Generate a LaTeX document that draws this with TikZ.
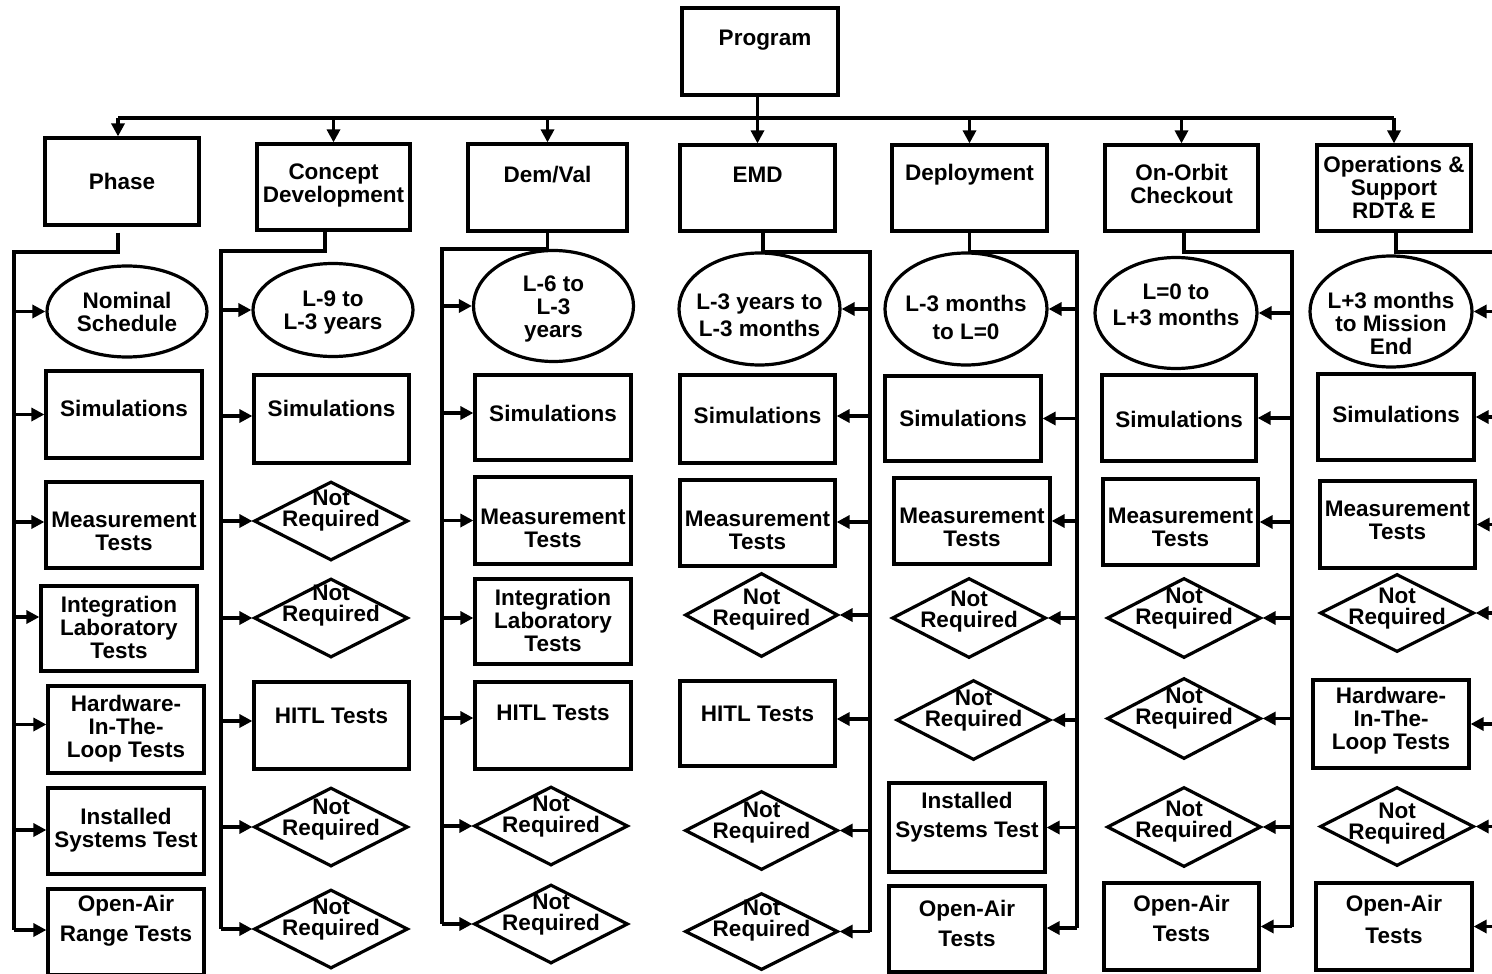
\documentclass[tikz,border=0pt]{standalone}
\usepackage{fontspec}
\setmainfont{Liberation Sans}
\usetikzlibrary{shapes.geometric,arrows.meta}
% arrow from a vertical bus into the left / right side of a node
\newcommand\inright[3]{\path ([yshift=#3]#2.west) coordinate (tip); \draw[arr] (#1 |- tip) -- (tip);}
\newcommand\inleft[3]{\path ([yshift=#3]#2.east) coordinate (tip); \draw[arr] (#1 |- tip) -- (tip);}
\begin{document}
\begin{tikzpicture}[x=1pt,y=-1pt,line width=3.2pt,
  every label/.style={align=center,font=\bfseries\fontsize{22.5}{23}\selectfont,inner sep=0pt},
  box/.style={draw,rectangle,minimum width=155pt,minimum height=86pt,inner sep=0pt},
  oval/.style={draw,ellipse,minimum width=161pt,minimum height=111pt,inner sep=0pt},
  nr/.style={draw,diamond,minimum width=154pt,minimum height=79pt,inner sep=0pt,
    label={[yshift=#1]center:Not\\[-2pt]Required}},
  nr/.default=9pt,
  arr/.style={-{Triangle[length=13pt,width=13pt]}},
  t/.style 2 args={label={[yshift=#1]center:#2}}]
\useasboundingbox (0,0) rectangle (1492,974);

% ---- top level ----
\node[box,minimum width=156pt,minimum height=87pt,label={[yshift=11.5pt,xshift=5pt]center:Program}] (prog) at (760,51.5) {};
\node[box,minimum width=154pt,minimum height=87pt,t={0pt}{Phase}] (phase) at (122,181.5) {};
\node[box,minimum width=153pt,t={1.5pt}{Concept\\Development}] (cd) at (333.5,187) {};
\node[box,minimum width=159pt,minimum height=87pt,t={12.5pt}{Dem/Val}] (dv) at (547.5,187.5) {};
\node[box,t={13pt}{EMD}] (emd) at (757.5,188) {};
\node[box,t={13pt}{Deployment}] (dep) at (969.5,188) {};
\node[box,minimum width=153pt,t={4pt}{On-Orbit\\Checkout}] (oo) at (1181.5,188) {};
\node[box,minimum width=154pt,t={1pt}{Operations \&\\Support\\RDT\& E}] (os) at (1394,188) {};

\coordinate (tb) at (0,118);
\draw[arr] (prog.south -| emd.north) -- (emd.north);
\draw ([xshift=-4pt]tb -| phase.north) -- (tb -| os.north);
\draw[arr] ([xshift=-4pt]tb -| phase.north) -- ([xshift=-4pt]phase.north);
\foreach \n in {cd,dv,dep,oo,os} \draw[arr] (tb -| \n.north) -- (\n.north);

% bus corners
\coordinate (k1) at (14,252);
\coordinate (k2) at (221,251);
\coordinate (k3) at (442,249);
\coordinate (k4) at (870,252);
\coordinate (k5) at (1077,252);
\coordinate (k6) at (1292,252);
\coordinate (k7) at (1500,252);

% ---- Phase column ----
\node[oval,minimum width=160pt,minimum height=91pt,t={0pt}{Nominal\\Schedule}] (a1) at (127,311.5) {};
\node[box,minimum width=156pt,minimum height=87pt,t={6.5pt}{Simulations}] (a2) at (124,414.5) {};
\node[box,minimum width=156pt,t={-6pt}{Measurement\\Tests}] (a3) at (124,525) {};
\node[box,minimum width=156pt,minimum height=85pt,t={1.5pt}{Integration\\Laboratory\\Tests}] (a4) at (119,628.5) {};
\node[box,minimum width=156pt,minimum height=87pt,t={1pt}{Hardware-\\In-The-\\Loop Tests}] (a5) at (126,729.5) {};
\node[box,minimum width=156pt,t={1pt}{Installed\\Systems Test}] (a6) at (126,831) {};
\node[box,minimum width=156pt,t={11.5pt}{Open-Air\\[7pt]Range Tests}] (a7) at (126,932) {};
\inright{k1}{a1}{0pt}
\inright{k1}{a2}{0pt}
\inright{k1}{a3}{3pt}
\inright{k1}{a4}{11.5pt}
\inright{k1}{a5}{5pt}
\inright{k1}{a6}{1pt}
\inright{k1}{a7}{2pt}
\draw ([xshift=-4pt,yshift=-6pt]phase.south) |- (k1) -- (k1 |- tip);

% ---- Concept Development column ----
\node[oval,minimum width=160pt,minimum height=93pt,t={-2pt}{L-9 to\\L-3 years}] (b1) at (333,310) {};
\node[box,minimum height=88pt,t={11pt}{Simulations}] (b2) at (331.5,419) {};
\node[nr=10.5pt] (b3) at (331,521) {};
\node[nr=12.5pt] (b4) at (331,618) {};
\node[box,minimum height=87pt,t={9.5pt}{HITL Tests}] (b5) at (331.5,725.5) {};
\node[nr=7pt] (b6) at (331,827) {};
\node[nr=9.5pt] (b7) at (331,929) {};
\inright{k2}{b1}{0pt}
\inright{k2}{b2}{3pt}
\inright{k2}{b3}{0pt}
\inright{k2}{b4}{0pt}
\inright{k2}{b5}{4.5pt}
\inright{k2}{b6}{0pt}
\inright{k2}{b7}{0pt}
\draw ([xshift=-8.5pt]cd.south) |- (k2) -- (k2 |- tip);

% ---- Dem/Val column ----
\node[oval,minimum width=160pt,t={-3pt}{L-6 to\\L-3\\years}] (c1) at (553.5,306) {};
\node[box,minimum width=156pt,minimum height=85pt,t={4.5pt}{Simulations}] (c2) at (553,417.5) {};
\node[box,minimum width=156pt,minimum height=87pt,t={-8pt}{Measurement\\Tests}] (c3) at (553,520.5) {};
\node[box,minimum width=156pt,minimum height=85pt,t={1.5pt}{Integration\\Laboratory\\Tests}] (c4) at (553,621.5) {};
\node[box,minimum width=156pt,minimum height=87pt,t={12.5pt}{HITL Tests}] (c5) at (553,725.5) {};
\node[nr=9pt] (c6) at (551,826) {};
\node[nr=9.5pt] (c7) at (551,924) {};
\inright{k3}{c1}{0pt}
\inright{k3}{c2}{4.5pt}
\inright{k3}{c3}{0pt}
\inright{k3}{c4}{3.5pt}
\inright{k3}{c5}{7.5pt}
\inright{k3}{c6}{0pt}
\inright{k3}{c7}{0pt}
\draw (dv.south) |- (k3) -- (k3 |- tip);

% ---- EMD column ----
\node[oval,minimum height=112pt,t={-6.5pt}{L-3 years to\\[4pt]L-3 months}] (d1) at (759.5,309) {};
\node[box,minimum height=88pt,t={4pt}{Simulations}] (d2) at (757.5,419) {};
\node[box,t={-7.5pt}{Measurement\\Tests}] (d3) at (757.5,523) {};
\node[nr=5pt,minimum width=153pt,minimum height=84pt] (d4) at (761.5,615) {};
\node[box,minimum height=85pt,t={9.5pt}{HITL Tests}] (d5) at (757.5,723.5) {};
\node[nr=8pt,minimum width=153pt] (d6) at (761.5,830.5) {};
\node[nr=11pt,minimum width=153pt,minimum height=77pt] (d7) at (761.5,931.5) {};
\inleft{k4}{d1}{0pt}
\inleft{k4}{d2}{3pt}
\inleft{k4}{d3}{1pt}
\inleft{k4}{d4}{0pt}
\inleft{k4}{d5}{4.5pt}
\inleft{k4}{d6}{0pt}
\inleft{k4}{d7}{0pt}
\draw ([xshift=5.5pt]emd.south) |- (k4) -- (k4 |- tip);

% ---- Deployment column ----
\node[oval,minimum width=162pt,minimum height=112pt,t={-8pt}{L-3 months\\[5pt]to L=0}] (e1) at (966,309) {};
\node[box,minimum width=156pt,minimum height=85pt,t={0.5pt}{Simulations}] (e2) at (963,418.5) {};
\node[box,minimum width=156pt,t={-6.5pt}{Measurement\\Tests}] (e3) at (972,521) {};
\node[nr=6pt,minimum height=80pt] (e4) at (969,618) {};
\node[nr=9.5pt,minimum height=80pt] (e5) at (973.5,720) {};
\node[box,minimum width=156pt,minimum height=89pt,t={10pt}{Installed\\[6pt]Systems Test}] (e6) at (967,827.5) {};
\node[box,minimum width=156pt,t={6pt}{Open-Air\\[7pt]Tests}] (e7) at (967,929) {};
\inleft{k5}{e1}{0pt}
\inleft{k5}{e2}{0pt}
\inleft{k5}{e3}{0pt}
\inleft{k5}{e4}{0pt}
\inleft{k5}{e5}{0pt}
\inleft{k5}{e6}{0pt}
\inleft{k5}{e7}{1pt}
\draw (dep.south) |- (k5) -- (k5 |- tip);

% ---- On-Orbit Checkout column ----
\node[oval,minimum width=162pt,t={8pt}{L=0 to\\[3pt]L+3 months}] (f1) at (1176,313) {};
\node[box,minimum width=154pt,t={-1pt}{Simulations}] (f2) at (1179,418) {};
\node[box,t={-5.5pt}{Measurement\\Tests}] (f3) at (1180.5,522) {};
\node[nr=9pt,minimum height=80pt] (f4) at (1184,618) {};
\node[nr=10pt,minimum height=81pt] (f5) at (1184,718.5) {};
\node[nr=5.5pt,minimum height=80pt] (f6) at (1184,827) {};
\node[box,minimum height=87pt,t={8.5pt}{Open-Air\\[7pt]Tests}] (f7) at (1181.5,926.5) {};
\inleft{k6}{f1}{0pt}
\inleft{k6}{f2}{0pt}
\inleft{k6}{f3}{0pt}
\inleft{k6}{f4}{0pt}
\inleft{k6}{f5}{0pt}
\inleft{k6}{f6}{0pt}
\inleft{k6}{f7}{0pt}
\draw ([xshift=2.5pt]oo.south) |- (k6) -- (k6 |- tip);

% ---- Operations & Support column ----
\node[oval,minimum width=162pt,t={-12pt}{L+3 months\\to Mission\\End}] (g1) at (1391,311.5) {};
\node[box,minimum width=156pt,t={3pt}{Simulations}] (g2) at (1396,417) {};
\node[box,minimum height=87pt,t={4pt}{Measurement\\Tests}] (g3) at (1397.5,524.5) {};
\node[nr=4.5pt,minimum height=78pt] (g4) at (1397,613) {};
\node[box,minimum width=156pt,minimum height=88pt,t={3pt}{Hardware-\\In-The-\\Loop Tests}] (g5) at (1391,724) {};
\node[nr=2.5pt] (g6) at (1397,826.5) {};
\node[box,minimum width=156pt,minimum height=87pt,t={7.5pt}{Open-Air\\[9pt]Tests}] (g7) at (1394,926.5) {};
\inleft{k7}{g1}{0pt}
\inleft{k7}{g2}{0pt}
\inleft{k7}{g3}{0pt}
\inleft{k7}{g4}{0pt}
\inleft{k7}{g5}{0pt}
\inleft{k7}{g6}{0pt}
\inleft{k7}{g7}{0pt}
\draw ([xshift=2pt]os.south) |- (k7) -- (k7 |- tip);
\end{tikzpicture}
\end{document}
